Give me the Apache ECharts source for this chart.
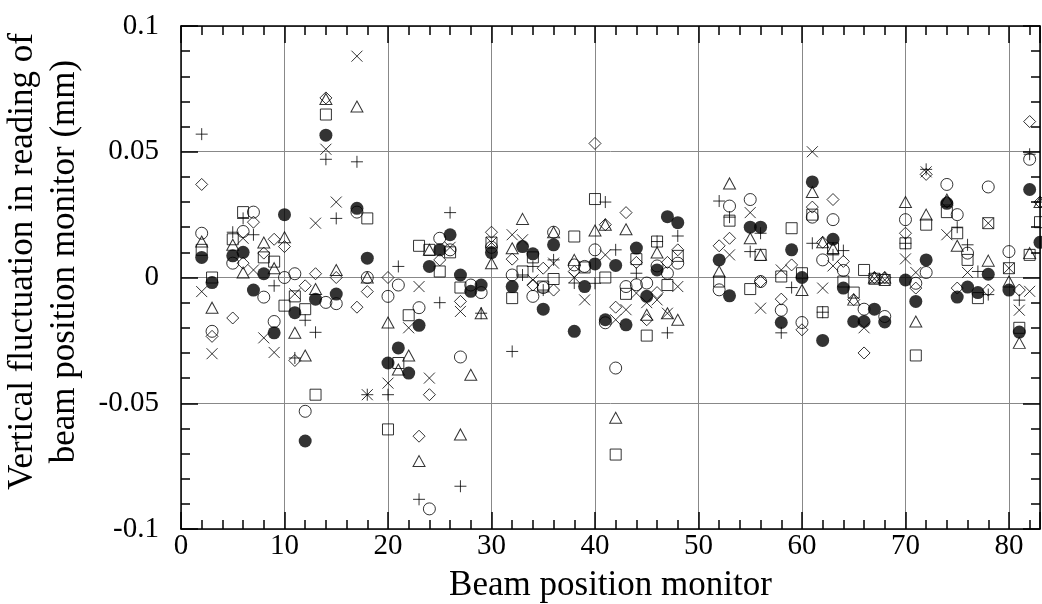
<!DOCTYPE html>
<html>
<head>
<meta charset="utf-8">
<script src="https://cdn.jsdelivr.net/npm/echarts@6/dist/echarts.min.js"></script>
<style>
  html, body { margin: 0; padding: 0; background: #fff; }
  #chart { width: 1042px; height: 604px; }
</style>
</head>
<body>
<div id="chart"></div>
<script>
// tick labels
const xTickLabels = ['0', '10', '20', '30', '40', '50', '60', '70', '80'];
const yTickLabels = ['-0.1', '-0.05', '0', '0.05', '0.1'];

// [monitor, fluctuation (mm)] for each marker type
const filledCircle = [
  [2, 0.008], [3, -0.002], [5, 0.0086], [6, 0.010], [7, -0.005], [8, 0.0015], [9, -0.022],
  [10, 0.025], [11, -0.014], [12, -0.065], [13, -0.0086], [14, 0.0566], [15, -0.0066],
  [17, 0.0275], [18, 0.0077], [20, -0.034], [21, -0.028], [22, -0.038], [23, -0.019],
  [24, 0.0044], [25, 0.011], [26, 0.017], [27, 0.001], [28, -0.0055], [29, -0.003],
  [30, 0.0099], [32, -0.0036], [33, 0.0123], [34, 0.0094], [35, -0.0126], [36, 0.013],
  [38, -0.0214], [39, -0.0036], [40, 0.0054], [41, -0.0168], [42, 0.0048], [43, -0.0188],
  [44, 0.0117], [45, -0.0075], [46, 0.003], [47, 0.0242], [48, 0.0218], [52, 0.007],
  [53, -0.0073], [55, 0.020], [56, 0.020], [58, -0.0179], [59, 0.011], [60, 0.0],
  [61, 0.038], [62, -0.025], [63, 0.0152], [64, -0.0042], [65, -0.0175], [66, -0.0175],
  [67, -0.0126], [68, -0.0177], [70, -0.001], [71, -0.0095], [72, 0.007], [74, 0.0295],
  [75, -0.0078], [76, -0.0038], [77, -0.006], [78, 0.0013], [80, -0.005], [81, -0.0217],
  [82, 0.035], [83, 0.014]
];
const openCircle = [
  [2, 0.0176], [3, -0.0214], [5, 0.0057], [6, 0.0183], [7, 0.026], [8, -0.0078], [9, -0.0175],
  [10, 0.0], [11, 0.0015], [12, -0.0532], [14, -0.0099], [15, -0.0104], [17, 0.026], [18, 0.0],
  [20, -0.0075], [21, -0.003], [23, -0.012], [24, -0.092], [25, 0.0156], [26, 0.011],
  [27, -0.0316], [28, -0.003], [29, -0.006], [30, 0.012], [32, 0.001], [34, -0.0075],
  [35, -0.004], [36, 0.018], [38, 0.005], [39, 0.0044], [40, 0.011], [41, -0.018],
  [42, -0.036], [43, -0.0036], [44, -0.0029], [45, -0.0022], [46, 0.0046], [47, 0.0017],
  [48, 0.0057], [52, -0.0049], [53, 0.0284], [55, 0.031], [56, -0.0016], [58, -0.013],
  [60, -0.0179], [61, 0.024], [62, 0.007], [63, 0.023], [64, 0.0028], [66, -0.0126],
  [68, -0.0155], [70, 0.023], [71, -0.0023], [72, 0.002], [74, 0.037], [75, 0.025],
  [76, 0.0097], [78, 0.036], [80, 0.0103], [82, 0.047]
];
const openSquare = [
  [2, 0.011], [3, 0.0], [5, 0.0152], [6, 0.026], [8, 0.008], [9, 0.0063], [10, -0.0112],
  [11, -0.0075], [12, -0.0126], [13, -0.0466], [14, 0.0648], [18, 0.0235], [20, -0.0604],
  [21, -0.034], [22, -0.015], [23, 0.0126], [24, 0.011], [25, 0.0024], [26, 0.010],
  [27, -0.004], [30, 0.0139], [32, -0.0082], [33, 0.0024], [34, 0.008], [35, -0.0036],
  [36, -0.0006], [38, 0.0163], [39, 0.004], [40, 0.0312], [41, 0.0], [42, -0.0704],
  [43, -0.0065], [44, 0.0073], [45, -0.0231], [46, 0.0143], [47, -0.003], [48, 0.0086],
  [52, -0.0016], [53, 0.0226], [55, -0.0046], [56, 0.009], [58, 0.0004], [59, 0.0196],
  [60, 0.0017], [61, 0.025], [62, -0.0138], [63, 0.0116], [64, -0.0016], [65, -0.006],
  [66, 0.003], [67, -0.0005], [68, -0.001], [70, 0.0136], [71, -0.031], [72, 0.021],
  [74, 0.026], [75, 0.0176], [76, 0.007], [77, -0.0082], [78, 0.0216], [80, 0.0037],
  [81, -0.020], [82, 0.009], [83, 0.022]
];
const openDiamond = [
  [2, 0.037], [3, -0.0234], [5, -0.0161], [6, 0.0057], [7, 0.022], [8, 0.0097], [9, 0.0152],
  [10, 0.0123], [11, -0.033], [12, -0.0033], [13, 0.0015], [14, 0.0714], [15, 0.0], [17, -0.0118],
  [18, -0.0056], [20, 0.0], [23, -0.0631], [24, -0.0466], [25, 0.007], [27, -0.0095],
  [30, 0.018], [32, 0.0073], [34, -0.003], [35, 0.0037], [36, -0.005], [38, 0.0024],
  [40, 0.0533], [41, 0.021], [42, -0.0118], [43, 0.0258], [44, 0.006], [45, -0.0168],
  [46, -0.006], [47, 0.006], [48, 0.011], [52, 0.0126], [53, 0.0156], [56, -0.0016],
  [58, -0.0086], [59, 0.005], [60, -0.0208], [61, 0.028], [62, 0.014], [63, 0.031],
  [64, 0.0064], [65, -0.0088], [66, -0.030], [67, 0.0], [68, 0.0], [70, 0.0176],
  [71, -0.0042], [72, 0.041], [74, 0.030], [75, -0.0042], [78, -0.005], [81, -0.005],
  [82, 0.062], [83, 0.030]
];
const openTriangle = [
  [2, 0.0143], [3, -0.012], [5, 0.013], [6, 0.002], [8, 0.0139], [9, 0.0037], [10, 0.016],
  [11, -0.022], [12, -0.031], [13, -0.0046], [14, 0.071], [15, 0.003], [17, 0.068], [18, 0.0],
  [20, -0.0179], [21, -0.0366], [22, -0.031], [23, -0.073], [24, 0.011], [27, -0.0624],
  [28, -0.0387], [29, -0.0142], [30, 0.0057], [32, 0.0116], [33, 0.0233], [36, 0.018],
  [38, 0.007], [40, 0.0187], [41, 0.021], [42, -0.0558], [43, 0.0192], [45, -0.0148],
  [46, 0.0099], [47, -0.0142], [48, -0.0168], [52, 0.0024], [53, 0.0374], [55, 0.0156],
  [56, 0.009], [60, -0.005], [61, 0.034], [62, 0.014], [63, 0.0116], [65, -0.0088],
  [67, 0.0], [68, 0.0], [70, 0.030], [71, -0.0175], [72, 0.025], [74, 0.031],
  [75, 0.0126], [78, 0.0067], [80, -0.0016], [81, -0.026], [82, 0.0097], [83, 0.030]
];
const cross = [
  [2, -0.0056], [3, -0.0303], [6, 0.0156], [7, 0.003], [8, -0.024], [9, -0.0298],
  [11, -0.0065], [13, 0.0216], [14, 0.051], [15, 0.030], [17, 0.088], [18, -0.0466],
  [20, -0.042], [22, -0.020], [23, -0.0036], [24, -0.040], [26, 0.012], [27, -0.0135],
  [30, 0.0139], [32, 0.017], [33, 0.015], [34, -0.001], [36, 0.0057], [38, 0.0],
  [39, -0.0089], [41, 0.009], [42, -0.0168], [43, -0.0128], [44, -0.0062], [45, -0.010],
  [46, -0.0089], [47, -0.0142], [48, -0.0036], [53, 0.009], [55, 0.0258], [56, -0.0122],
  [58, 0.003], [61, 0.050], [62, -0.0042], [63, 0.0046], [66, -0.020], [67, -0.0005],
  [68, -0.001], [70, 0.0074], [71, 0.002], [72, 0.042], [74, 0.017], [76, 0.002],
  [78, 0.0216], [80, 0.0037], [81, -0.013], [82, -0.0055]
];
const plus = [
  [2, 0.057], [5, 0.018], [6, 0.0235], [7, 0.017], [9, -0.0033], [11, -0.032], [12, -0.017],
  [13, -0.0218], [14, 0.047], [15, 0.0235], [17, 0.046], [18, -0.0466], [20, -0.0466], [21, 0.0044],
  [23, -0.0882], [25, -0.010], [26, 0.0258], [27, -0.083], [29, -0.0142], [32, -0.0294],
  [33, 0.001], [34, 0.0044], [35, -0.005], [36, 0.007], [38, -0.0022], [40, -0.0023],
  [41, 0.030], [42, 0.011], [44, 0.0017], [46, 0.0143], [47, -0.022], [48, 0.0165],
  [52, 0.0304], [53, 0.024], [55, 0.0103], [56, 0.0176], [58, -0.022], [59, -0.004],
  [61, 0.0136], [62, -0.0138], [63, 0.009], [64, 0.0107], [70, 0.0136], [72, 0.043],
  [75, 0.02], [76, 0.013], [77, 0.0024], [78, -0.0068], [81, -0.009], [82, 0.049], [83, 0.03]
];

const font = 'Liberation Serif';
const chart = echarts.init(document.getElementById('chart'));

const hollow = { color: 'rgba(0,0,0,0)', borderColor: '#000', borderWidth: 1 };
const lines = { color: '#000', borderColor: '#000', borderWidth: 1 };
const frameLine = { show: true, onZero: false, lineStyle: { color: '#000', width: 1.5 } };

function scatter(data, symbol, size, style) {
  return {
    type: 'scatter',
    data: data,
    symbol: symbol,
    symbolSize: size,
    itemStyle: style,
    silent: true
  };
}

// helper axes that only draw tick marks (top side / minor x ticks)
function tickAxis(position, interval, len) {
  return {
    type: 'value', position: position, min: 0, max: 83, interval: interval,
    axisLine: { show: false, onZero: false },
    axisTick: { show: true, inside: true, length: len, lineStyle: { color: '#000', width: 1.5 } },
    axisLabel: { show: false },
    splitLine: { show: false }
  };
}

const option = {
  backgroundColor: '#fff',
  animation: false,
  grid: { left: 181, right: 2, top: 26, bottom: 75, outerBoundsMode: 'none', containLabel: false },
  xAxis: [
    {
      type: 'value', position: 'bottom', min: 0, max: 83, interval: 10,
      name: 'Beam position monitor', nameLocation: 'middle', nameGap: 39,
      nameTextStyle: { fontFamily: font, fontSize: 35, color: '#000' },
      axisLine: frameLine,
      axisTick: { show: true, inside: true, length: 17, lineStyle: { color: '#000', width: 1.5 } },
      axisLabel: {
        fontFamily: font, fontSize: 29, color: '#000', margin: 3,
        formatter: v => xTickLabels.includes(String(v)) ? String(v) : ''
      },
      splitLine: { show: true, lineStyle: { color: '#888', width: 1 } }
    },
    tickAxis('bottom', 2, 9),
    Object.assign(tickAxis('top', 10, 17), { axisLine: frameLine }),
    tickAxis('top', 2, 9)
  ],
  yAxis: [
    {
      type: 'value', position: 'left', min: -0.1, max: 0.1, interval: 0.05,
      name: 'Vertical fluctuation in reading of\nbeam position monitor (mm)',
      nameLocation: 'middle', nameGap: 95,
      nameTextStyle: { fontFamily: font, fontSize: 35, color: '#000', lineHeight: 42, padding: [0, 0, 0, 32] },
      axisLine: frameLine,
      axisTick: { show: true, inside: true, length: 17, lineStyle: { color: '#000', width: 1.5 } },
      minorTick: { show: true, splitNumber: 5, length: 9, lineStyle: { color: '#000', width: 1.5 } },
      axisLabel: {
        fontFamily: font, fontSize: 29, color: '#000', margin: 22,
        formatter: v => yTickLabels.find(t => Math.abs(parseFloat(t) - v) < 1e-9) || ''
      },
      splitLine: { show: true, lineStyle: { color: '#888', width: 1 } }
    },
    {
      type: 'value', position: 'right', min: -0.1, max: 0.1, interval: 0.05,
      axisLine: frameLine,
      axisTick: { show: true, inside: true, length: 17, lineStyle: { color: '#000', width: 1.5 } },
      minorTick: { show: true, splitNumber: 5, length: 9, lineStyle: { color: '#000', width: 1.5 } },
      axisLabel: { show: false },
      splitLine: { show: false }
    }
  ],
  series: [
    scatter(openCircle, 'circle', 12, hollow),
    scatter(openSquare, 'rect', 11, hollow),
    scatter(openDiamond, 'diamond', [12, 12], hollow),
    scatter(openTriangle, 'triangle', [12, 11], hollow),
    scatter(cross, 'path://M0,0L12,12M12,0L0,12', 11, lines),
    scatter(plus, 'path://M6,0L6,12M0,6L12,6', 12, lines),
    scatter(filledCircle, 'circle', 13, { color: '#000' })
  ]
};

chart.setOption(option);
</script>
</body>
</html>
